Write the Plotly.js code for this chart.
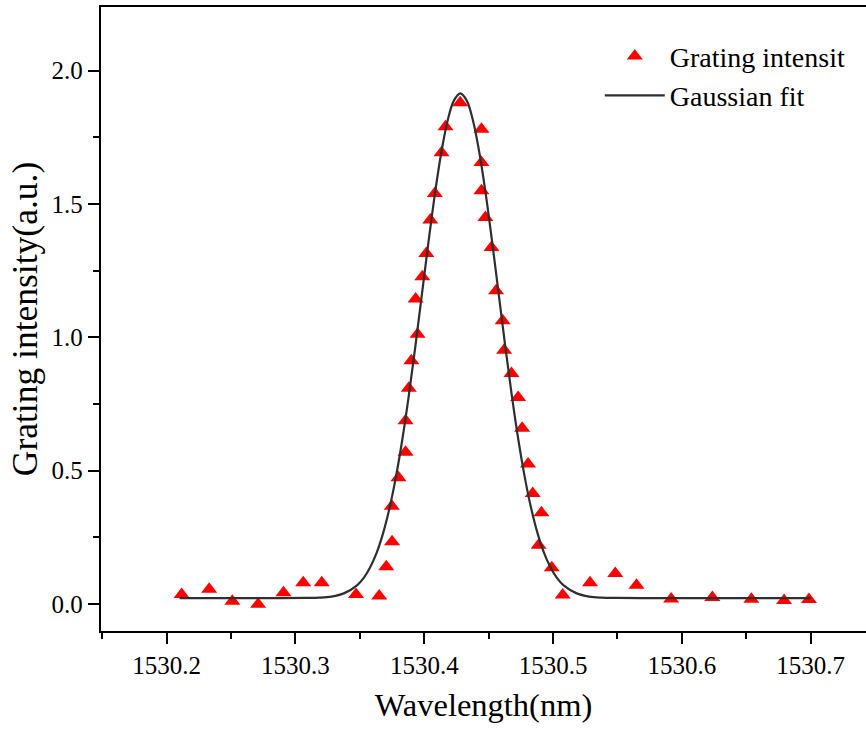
<!DOCTYPE html>
<html>
<head>
<meta charset="utf-8">
<script src="https://cdn.plot.ly/plotly-3.0.1.min.js"></script>
<style>
html,body{margin:0;padding:0;background:#fff;overflow:hidden;}
#chart{width:866px;height:733px;}
</style>
</head>
<body>
<div id="chart"></div>
<script>
// Measured grating intensity (triangles)
var wavelength = [
  1530.2116, 1530.2330, 1530.2510, 1530.2710, 1530.2907, 1530.3060, 1530.3204,
  1530.3470, 1530.3650, 1530.3705, 1530.3750, 1530.3748, 1530.3800, 1530.3855,
  1530.3855, 1530.3880, 1530.3900, 1530.3948, 1530.3933, 1530.3985, 1530.4016,
  1530.4047, 1530.4082, 1530.4134, 1530.4165, 1530.4279, 1530.4444, 1530.4444,
  1530.4444, 1530.4475, 1530.4522, 1530.4558, 1530.4609, 1530.4620, 1530.4677,
  1530.4729, 1530.4760, 1530.4806, 1530.4842, 1530.4910, 1530.4888, 1530.4990,
  1530.5075, 1530.5287, 1530.5483, 1530.5648, 1530.5917, 1530.6237, 1530.6540,
  1530.6794, 1530.6987
];
var intensity = [
  0.036, 0.056, 0.011, -0.001, 0.042, 0.080, 0.080,
  0.036, 0.030, 0.140, 0.234, 0.367, 0.474, 0.569,
  0.687, 0.809, 0.912, 1.012, 1.144, 1.227, 1.315,
  1.440, 1.540, 1.692, 1.790, 1.880, 1.781, 1.656,
  1.550, 1.450, 1.337, 1.175, 1.062, 0.952, 0.865,
  0.775, 0.659, 0.525, 0.415, 0.342, 0.221, 0.136,
  0.034, 0.080, 0.115, 0.071, 0.019, 0.025, 0.018,
  0.013, 0.017
];

// Gaussian fit curve
var fitX = [
  1530.210, 1530.288, 1530.308, 1530.318, 1530.328, 1530.338, 1530.348, 1530.353,
  1530.358, 1530.363, 1530.368, 1530.373, 1530.378, 1530.383, 1530.388, 1530.393,
  1530.398, 1530.403, 1530.408, 1530.413, 1530.418, 1530.423, 1530.428, 1530.433,
  1530.438, 1530.443, 1530.448, 1530.453, 1530.458, 1530.463, 1530.468, 1530.473,
  1530.478, 1530.483, 1530.488, 1530.493, 1530.498, 1530.503, 1530.508, 1530.518,
  1530.528, 1530.538, 1530.548, 1530.568, 1530.700
];
var fitY = [
  0.022, 0.022, 0.023, 0.024, 0.028, 0.041, 0.071, 0.098,
  0.138, 0.192, 0.265, 0.359, 0.477, 0.618, 0.782, 0.963,
  1.155, 1.347, 1.529, 1.687, 1.810, 1.888, 1.915, 1.888,
  1.810, 1.687, 1.529, 1.347, 1.155, 0.963, 0.782, 0.618,
  0.477, 0.359, 0.265, 0.192, 0.138, 0.098, 0.071, 0.041,
  0.028, 0.024, 0.023, 0.022, 0.022
];

var seriesNames = ["Grating intensit", "Gaussian fit"];
var xTitle = "\u00a0Wavelength(nm)";
var yTitle = "Grating intensity(a.u.)\u00a0\u00a0\u00a0";

var FONT = "Liberation Serif, Times New Roman, serif";

var traces = [
  {
    x: wavelength, y: intensity, name: seriesNames[0],
    type: "scatter", mode: "markers",
    marker: {symbol: "triangle-up", size: 14, color: "#ff0000", line: {width: 0}}
  },
  {
    x: fitX, y: fitY, name: seriesNames[1],
    type: "scatter", mode: "lines",
    line: {color: "#2f2f2f", width: 2.2, shape: "spline", smoothing: 1}
  }
];

var layout = {
  width: 866, height: 733,
  margin: {l: 101, r: 0, t: 7, b: 102},
  paper_bgcolor: "#ffffff", plot_bgcolor: "#ffffff",
  font: {family: FONT, size: 25, color: "#000"},
  showlegend: true,
  legend: {
    x: 0.652, y: 0.961, xanchor: "left", yanchor: "top",
    bgcolor: "rgba(0,0,0,0)", borderwidth: 0,
    font: {family: FONT, size: 28, color: "#000"},
    itemwidth: 60, tracegroupgap: 0
  },
  xaxis: {
    range: [1530.149, 1530.743],
    showgrid: false, zeroline: false,
    showline: true, linecolor: "#000", linewidth: 2.2, mirror: true,
    ticks: "outside", ticklen: 11, tickwidth: 2, tickcolor: "#000",
    tick0: 1530.2, dtick: 0.1, tickformat: ".1f",
    minor: {ticks: "outside", ticklen: 6, tickwidth: 2, tickcolor: "#000", dtick: 0.05, tick0: 1530.2, showgrid: false},
    tickfont: {family: FONT, size: 25, color: "#000"},
    title: {text: xTitle, font: {family: FONT, size: 32.5, color: "#000"}, standoff: 15},
    automargin: false
  },
  yaxis: {
    range: [-0.101, 2.239],
    showgrid: false, zeroline: false,
    showline: true, linecolor: "#000", linewidth: 2.2, mirror: false,
    ticks: "outside", ticklen: 11, tickwidth: 2, tickcolor: "#000",
    tick0: 0, dtick: 0.5, tickformat: ".1f",
    minor: {ticks: "outside", ticklen: 6, tickwidth: 2, tickcolor: "#000", dtick: 0.25, tick0: 0, showgrid: false},
    tickfont: {family: FONT, size: 25, color: "#000"},
    title: {text: yTitle, font: {family: FONT, size: 35.5, color: "#000"}, standoff: 3},
    automargin: false
  }
};

Plotly.newPlot("chart", traces, layout, {displayModeBar: false, staticPlot: true});
</script>
</body>
</html>
